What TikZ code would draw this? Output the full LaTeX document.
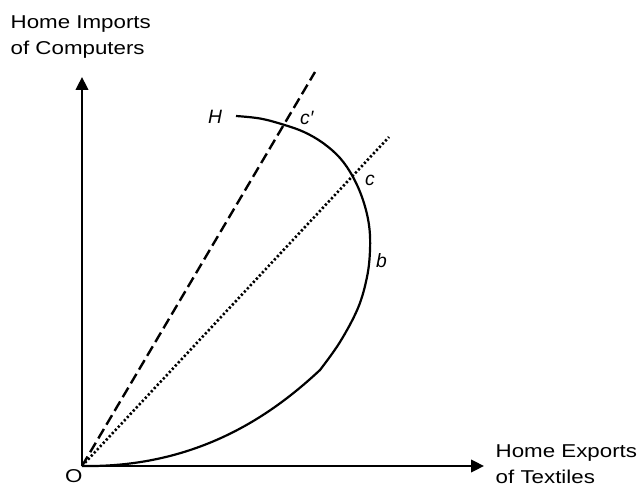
\documentclass[tikz,border=0pt]{standalone}
\usepackage{fontspec}
\setmainfont{Liberation Sans}
\usetikzlibrary{arrows.meta}
\begin{document}
\begin{tikzpicture}[x=1pt,y=-1pt,
  axis/.style={line width=2.5pt,-{Triangle[length=13pt,width=12.5pt]}},
  curveline/.style={line width=2.2pt},
  dashline/.style={line width=2.4pt,dash pattern=on 11pt off 5pt},
  dotline/.style={line width=2.6pt,dash pattern=on 2.2pt off 2.2pt},
  lab/.style={inner sep=0pt,anchor=base west,font=\fontsize{18.6pt}{22pt}\selectfont},
  ilab/.style={inner sep=0pt,anchor=base west,font=\fontsize{19.3pt}{22pt}\selectfont\itshape}]
\useasboundingbox (0,0) rectangle (642,486);
\coordinate (O) at (82,466);
\coordinate (ytip) at (82,77);
\coordinate (xtip) at (484,466);
\coordinate (dtop) at (315,72);
\coordinate (ptop) at (389,137);
\coordinate (hstart) at (236,116);
\coordinate (kink) at (320,370);
% axes
\draw[axis] (O) -- (ytip);
\draw[axis] (O) -- (xtip);
% rays
\draw[dashline] (O) -- (dtop);
\draw[dotline] (O) -- (ptop);
% curve
\draw[curveline] plot[smooth, tension=0.6] coordinates {(hstart) (260,118.5) (283,124.5) (304,132) (323,143) (340,158) (353,177) (363,200) (369,225) (370,250) (367,277) (358,308) (340,342) (kink)} .. controls (275,412) and (200,468) .. (O);
% labels
\node[lab] (yl1) at (10.5,29) {\scalebox{1.2}[1]{Home Imports}};
\node[lab] (yl2) at (10.5,55) {\scalebox{1.2}[1]{of Computers}};
\node[lab] (xl1) at (495.5,457.5) {\scalebox{1.2}[1]{Home Exports}};
\node[lab] (xl2) at (495.5,483) {\scalebox{1.2}[1]{of Textiles}};
\node[lab] (ol) at (65,482) {\scalebox{1.2}[1]{O}};
\node[ilab] (hl) at (208,124) {H};
\node[ilab] (cpl) at (300,125) {c′};
\node[ilab] (cl) at (365,186) {c};
\node[ilab] (bl) at (376,267) {b};
\end{tikzpicture}
\end{document}
